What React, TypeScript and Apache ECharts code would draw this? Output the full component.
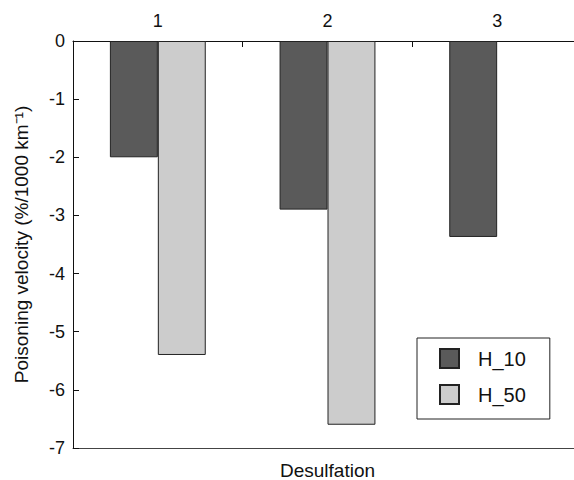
import React, { useEffect, useRef } from "react";
import * as echarts from "echarts";

const categories = ["1", "2", "3"];
const h10Values = [-2.0, -2.9, -3.37];
const h50Values: (number | null)[] = [-5.4, -6.6, null];
const yTicks = { min: -7, max: 0, interval: 1 };

const FONT = "Liberation Sans, Arial, sans-serif";

export default function App() {
  const ref = useRef<HTMLDivElement>(null);
  useEffect(() => {
    if (!ref.current) return;
    const chart = echarts.init(ref.current, undefined, { renderer: "svg" });
    chart.setOption({
      animation: false,
      backgroundColor: "#ffffff",
      textStyle: { fontFamily: FONT },
      grid: {
        left: 73,
        top: 41,
        right: -8,
        bottom: 32,
        containLabel: false,
        outerBoundsMode: "none",
      },
      legend: {
        orient: "vertical",
        left: 417,
        top: 338,
        padding: [10, 24, 14, 22],
        borderColor: "#222",
        borderWidth: 1,
        itemWidth: 19,
        itemHeight: 19,
        itemGap: 15,
        icon: "rect",
        textStyle: {
          fontFamily: FONT,
          fontSize: 20,
          lineHeight: 19,
          color: "#111",
          padding: [0, 0, 0, 14],
        },
        data: ["H_10", "H_50"],
      },
      xAxis: [
        {
          type: "category",
          position: "top",
          data: categories,
          axisLine: { show: true, lineStyle: { color: "#111", width: 1 } },
          axisTick: {
            show: true,
            inside: true,
            length: 6,
            alignWithLabel: false,
            lineStyle: { color: "#111" },
          },
          axisLabel: { fontFamily: FONT, fontSize: 18, color: "#111", margin: 11 },
          splitLine: { show: false },
        },
        {
          type: "category",
          position: "bottom",
          data: categories,
          axisLine: { show: true, lineStyle: { color: "#444", width: 1 } },
          axisTick: { show: false },
          axisLabel: { show: false },
          name: "Desulfation",
          nameLocation: "middle",
          nameGap: 13,
          nameTextStyle: { fontFamily: FONT, fontSize: 19, color: "#111" },
        },
      ],
      yAxis: {
        type: "value",
        min: yTicks.min,
        max: yTicks.max,
        interval: yTicks.interval,
        axisLine: { show: true, lineStyle: { color: "#111", width: 1 } },
        axisTick: { show: true, inside: true, length: 6, lineStyle: { color: "#111" } },
        axisLabel: { fontFamily: FONT, fontSize: 18, color: "#111", margin: 8 },
        splitLine: { show: false },
        name: "Poisoning velocity (%/1000 km\u207B\u00B9)",
        nameLocation: "middle",
        nameRotate: 90,
        nameGap: 42,
        nameTextStyle: { fontFamily: FONT, fontSize: 19, color: "#111" },
      },
      series: [
        {
          name: "H_10",
          type: "bar",
          xAxisIndex: 0,
          data: h10Values,
          barGap: "0%",
          barCategoryGap: "43.5%",
          itemStyle: { color: "#5a5a5a", borderColor: "#222", borderWidth: 1 },
        },
        {
          name: "H_50",
          type: "bar",
          xAxisIndex: 0,
          data: h50Values,
          barGap: "0%",
          barCategoryGap: "43.5%",
          itemStyle: { color: "#cccccc", borderColor: "#222", borderWidth: 1 },
        },
      ],
    });
    return () => chart.dispose();
  }, []);
  return (
    <div
      ref={ref}
      style={{ width: 574, height: 480, position: "absolute", left: 0, top: 0 }}
    />
  );
}
